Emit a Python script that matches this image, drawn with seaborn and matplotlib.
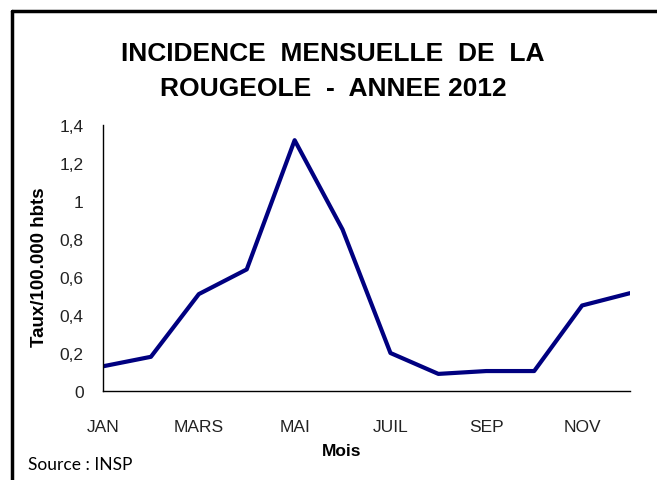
import matplotlib
matplotlib.use("Agg")
import matplotlib.pyplot as plt
import seaborn as sns
import pandas as pd
from matplotlib.lines import Line2D

months = ["JAN", "FEV", "MARS", "AVR", "MAI", "JUIN", "JUIL", "AOUT", "SEP", "OCT", "NOV", "DEC"]
shown_labels = ["JAN", "", "MARS", "", "MAI", "", "JUIL", "", "SEP", "", "NOV", ""]
values = [0.13, 0.18, 0.51, 0.64, 1.32, 0.85, 0.20, 0.09, 0.105, 0.105, 0.45, 0.515]
y_ticks = [0, 0.2, 0.4, 0.6, 0.8, 1.0, 1.2, 1.4]
y_tick_labels = ["0", "0,2", "0,4", "0,6", "0,8", "1", "1,2", "1,4"]

sns.set_theme(style="white")
plt.rcParams['font.family'] = ['Liberation Sans', 'DejaVu Sans']
plt.rcParams['text.color'] = 'black'

df = pd.DataFrame({"pos": list(range(len(months))), "val": values})

fig = plt.figure(figsize=(6.57, 4.81), dpi=100)
ax = fig.add_axes([103/657, 1 - 392/481, (630-103)/657, (392-126)/481])
sns.lineplot(data=df, x="pos", y="val", ax=ax, color="#000080", linewidth=3)

ax.set_xlim(0, len(months) - 1)
ax.set_ylim(0, 1.4)
ax.set_xticks(range(len(months)))
ax.set_xticklabels(shown_labels, fontsize=12.5, color="#222222")
ax.set_yticks(y_ticks)
ax.set_yticklabels(y_tick_labels, fontsize=12.5, color="#222222")
ax.tick_params(axis="both", direction="out", length=5, width=1, color="black")
ax.tick_params(axis="y", pad=9)
ax.tick_params(axis="x", pad=15)
for s in ["top", "right"]:
    ax.spines[s].set_visible(False)
for s in ["left", "bottom"]:
    ax.spines[s].set_color("black")
    ax.spines[s].set_linewidth(1)

ax.set_xlabel("")
ax.set_ylabel("Taux/100.000 hbts", fontsize=13.5, fontweight="bold", color="black")
ax.yaxis.set_label_coords(-0.105, 0.47)
fig.text(342/657, 1 - 452/481, "Mois", ha="center", va="center", fontsize=12.5,
         fontweight="bold", color="black")

fig.text(333/657, 1 - 61/481, "INCIDENCE  MENSUELLE  DE  LA", ha="center", va="baseline",
         fontsize=19, fontweight="bold", color="black")
fig.text(333/657, 1 - 96/481, "ROUGEOLE  -  ANNEE 2012", ha="center", va="baseline",
         fontsize=19, fontweight="bold", color="black")
fig.text(28/657, 1 - 470.5/481, "Source : INSP", ha="left", va="baseline", fontsize=12.5,
         family=["Lato", "DejaVu Sans"], color="black")

fig.add_artist(Line2D([12/657, 12/657], [0, 1 - 12/481], transform=fig.transFigure,
                      color="black", linewidth=2.5))
fig.add_artist(Line2D([12/657, 1], [1 - 12/481, 1 - 12/481], transform=fig.transFigure,
                      color="black", linewidth=2.5))

fig.savefig("out.png", dpi=100)
